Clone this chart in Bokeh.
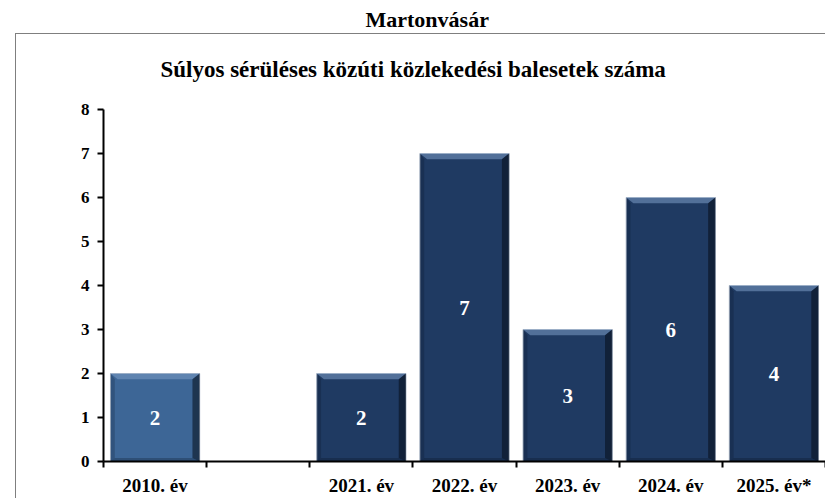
from bokeh.plotting import figure
from bokeh.models import Range1d, FixedTicker, Title, ColumnDataSource
from bokeh.core.properties import value
from bokeh.embed import file_html
from bokeh.resources import INLINE

# ---- data ----
categories = ["2010. év", "", "2021. év", "2022. év", "2023. év", "2024. év", "2025. év*"]
counts = [2, None, 2, 7, 3, 6, 4]
bar_colors = ["#3D6696", None, "#1F3A62", "#1F3A62", "#1F3A62", "#1F3A62", "#1F3A62"]
y_ticks = [0, 1, 2, 3, 4, 5, 6, 7, 8]
outer_title = "Martonvásár"
inner_title = "Súlyos sérüléses közúti közlekedési balesetek száma"

FONT = "Liberation Serif"
W, H = 825, 498
ML, MT, MB = 103, 109, 35

p = figure(width=W, height=H, output_backend="svg", toolbar_location=None, title=None,
           x_range=Range1d(0, len(categories)), y_range=Range1d(0, 8),
           min_border_left=ML, min_border_right=0, min_border_top=MT, min_border_bottom=MB)
p.outline_line_color = None
p.xgrid.visible = False
p.ygrid.visible = False
p.background_fill_color = "white"
p.border_fill_color = None
# thin grey frame (left and top edges) around the chart area, as in the reference
p.styles = {
    "background-color": "white",
    "background-image": "linear-gradient(#7F7F7F, #7F7F7F), linear-gradient(#7F7F7F, #7F7F7F)",
    "background-position": "15px 33px, 15px 33px",
    "background-size": "1px 100%, 100% 1px",
    "background-repeat": "no-repeat",
}

# bars
idx = [i for i, v in enumerate(counts) if v is not None]
xc = [i + 0.5 for i in idx]
vals = [counts[i] for i in idx]
cols = [bar_colors[i] for i in idx]
bw = 0.865
src = ColumnDataSource(dict(x=xc, top=vals, color=cols,
                            lbl=[str(v) for v in vals], ymid=[v / 2 for v in vals]))
p.vbar(x="x", top="top", bottom=0, width=bw, fill_color="color", line_color="#A9B6C8",
       line_width=1, source=src)

# bevel effects (derived from the bar values)
dx = 0.07
dy = 0.13
top_xs, top_ys, r_xs, r_ys, l_xs, l_ys, b_xs, b_ys = [], [], [], [], [], [], [], []
for x, v in zip(xc, vals):
    x0, x1 = x - bw / 2, x + bw / 2
    top_xs.append([x0, x1, x1 - dx, x0 + dx]); top_ys.append([v, v, v - dy, v - dy])
    r_xs.append([x1, x1, x1 - dx, x1 - dx]); r_ys.append([v, 0, dy * 0.6, v - dy])
    l_xs.append([x0, x0, x0 + dx * 0.6, x0 + dx * 0.6]); l_ys.append([v, 0, dy * 0.6, v - dy])
    b_xs.append([x0, x1, x1 - dx, x0 + dx * 0.6]); b_ys.append([0, 0, dy * 0.6, dy * 0.6])
p.patches(top_xs, top_ys, fill_color="#7C9CC6", fill_alpha=0.55, line_color=None)
p.patches(r_xs, r_ys, fill_color="#050C18", fill_alpha=0.55, line_color=None)
p.patches(l_xs, l_ys, fill_color="#050C18", fill_alpha=0.2, line_color=None)
p.patches(b_xs, b_ys, fill_color="#050C18", fill_alpha=0.25, line_color=None)

p.text(x="x", y="ymid", text="lbl", source=src, text_color="white",
       text_font=value(FONT), text_font_style="bold", text_font_size="21px",
       text_align="center", text_baseline="middle")

# y axis
ya = p.yaxis[0]
ya.ticker = FixedTicker(ticks=y_ticks, minor_ticks=[])
ya.axis_line_width = 2
ya.major_tick_line_width = 2
ya.major_tick_out = 6
ya.major_tick_in = 0
ya.minor_tick_line_color = None
ya.major_label_standoff = 8
ya.major_label_text_font = FONT
ya.major_label_text_font_style = "bold"
ya.major_label_text_font_size = "17px"
ya.major_label_text_color = "black"

# x axis: ticks between categories, labels centred in each slot
xa = p.xaxis[0]
centers = [i + 0.5 for i in range(len(categories))]
xa.ticker = FixedTicker(ticks=centers, minor_ticks=list(range(len(categories) + 1)))
xa.major_label_overrides = {c: lab for c, lab in zip(centers, categories)}
xa.axis_line_width = 2
xa.major_tick_line_color = None
xa.major_tick_out = 0
xa.major_tick_in = 0
xa.minor_tick_line_width = 2
xa.minor_tick_out = 6
xa.minor_tick_in = 0
xa.major_label_standoff = 7
xa.major_label_text_font = FONT
xa.major_label_text_font_style = "bold"
xa.major_label_text_font_size = "19px"
xa.major_label_text_color = "black"

# titles (inner first = closest to the plot)
p.add_layout(Title(text=inner_title, align="left", offset=57, standoff=51,
                   vertical_align="top",
                   text_font=FONT, text_font_style="bold", text_font_size="23px",
                   text_color="black"), "above")
p.add_layout(Title(text=outer_title, align="left", offset=262, standoff=0,
                   vertical_align="bottom",
                   text_font=FONT, text_font_style="bold", text_font_size="22px",
                   text_color="black"), "above")

open("out.html", "w").write(file_html(p, INLINE))
